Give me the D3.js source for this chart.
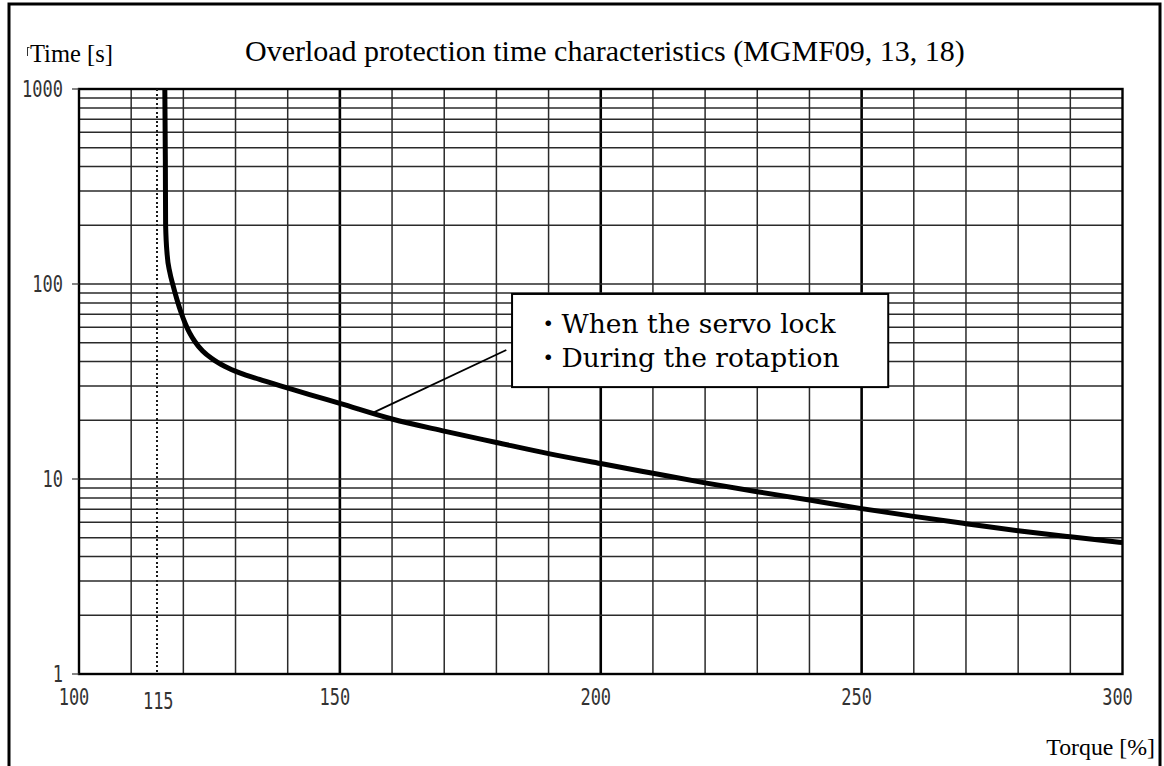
<!DOCTYPE html>
<html>
<head>
<meta charset="utf-8">
<script src="https://cdn.jsdelivr.net/npm/d3@7"></script>
<style>
  body { margin: 0; background: #fff; }
</style>
</head>
<body>
<div id="chart"></div>
<script>
// curve: torque [%] vs time [s]
const torque = [116.45, 116.55, 116.6, 116.9, 117.4, 118.0, 118.8, 119.6, 120.4, 121.2, 122.2, 123.7, 125.6, 127.9, 130.8, 134.6, 139.1, 144.2, 150, 160, 170, 180, 190, 200, 210, 220, 230, 240, 250, 260, 270, 280, 290, 300];
const time = [1000, 432, 200, 141, 115, 99, 82.8, 71, 62.4, 56.1, 50.7, 45.3, 41.2, 37.9, 35.0, 32.4, 29.8, 27.1, 24.4, 20.3, 17.6, 15.4, 13.5, 12.0, 10.7, 9.55, 8.6, 7.8, 7.05, 6.43, 5.9, 5.43, 5.05, 4.72];

const xTicks = [100, 115, 150, 200, 250, 300];
const yTicks = [1, 10, 100, 1000];
const limitTorque = 115;
const heavyX = [150, 200, 250];

const titleText = "Overload protection time characteristics (MGMF09, 13, 18)";
const legendLines = ["・When the servo lock", "・During the rotaption"];
// leader line from the curve to the note box, and the box corners, in data units
const leader = [[156.4, 21.9], [181.9, 45.9]];
const noteBox = {x0: 183, x1: 255.1, top: 88.9, bottom: 29.6};

const W = 1164, H = 766;

const svg = d3.select("#chart").append("svg")
    .attr("width", W)
    .attr("height", H);

// frame round the whole picture (bottom runs off the page)
svg.append("rect")
    .attr("x", 9).attr("y", 4)
    .attr("width", 1151).attr("height", 820)
    .attr("fill", "none")
    .attr("stroke", "#000")
    .attr("stroke-width", 3);

const x = d3.scaleLinear().domain([100, 300]).range([79, 1122.5]);
const y = d3.scaleLog().domain([1, 1000]).range([674, 89]);

// vertical grid
const vGrid = d3.range(110, 300, 10);
svg.append("g")
    .selectAll("line")
    .data(vGrid)
    .join("line")
    .attr("x1", d => x(d)).attr("x2", d => x(d))
    .attr("y1", y(1000)).attr("y2", y(1))
    .attr("stroke", d => heavyX.includes(d) ? "#000" : "#2a2a2a")
    .attr("stroke-width", d => heavyX.includes(d) ? 2.6 : 1.5);

// horizontal log grid
const hGrid = [];
[1, 10, 100].forEach(dec => {
    d3.range(2, 10).forEach(k => hGrid.push(dec * k));
    if (dec > 1) hGrid.push(dec);
});
svg.append("g")
    .selectAll("line")
    .data(hGrid)
    .join("line")
    .attr("x1", x(100)).attr("x2", x(300))
    .attr("y1", d => y(d)).attr("y2", d => y(d))
    .attr("stroke", "#2a2a2a")
    .attr("stroke-width", 1.5);

// plot border
svg.append("rect")
    .attr("x", x(100)).attr("y", y(1000))
    .attr("width", x(300) - x(100))
    .attr("height", y(1) - y(1000))
    .attr("fill", "none")
    .attr("stroke", "#000")
    .attr("stroke-width", 2.4);

// dotted limit line (snapped to whole pixels so the dots stay dark)
const limX = Math.round(x(limitTorque));
svg.append("line")
    .attr("x1", limX).attr("x2", limX)
    .attr("y1", y(1000)).attr("y2", y(1))
    .attr("stroke", "#1a1a1a")
    .attr("stroke-width", 2)
    .attr("stroke-dasharray", "2,2.5")
    .attr("shape-rendering", "crispEdges");

// y tick marks + labels
const tickFont = "'DejaVu Sans Mono', monospace";
svg.append("g")
    .selectAll("line")
    .data(yTicks)
    .join("line")
    .attr("x1", x(100) - 7).attr("x2", x(100))
    .attr("y1", d => y(d)).attr("y2", d => y(d))
    .attr("stroke", "#333")
    .attr("stroke-width", 1.2);

svg.append("g")
    .selectAll("text")
    .data(yTicks)
    .join("text")
    .attr("transform", d => `translate(${x(100) - 16},${y(d) + 8}) scale(1,1.3)`)
    .attr("text-anchor", "end")
    .style("font-family", tickFont)
    .style("font-size", "17px")
    .style("fill", "#333")
    .text(d => d);

svg.append("g")
    .selectAll("text")
    .data(xTicks)
    .join("text")
    .attr("transform", d => d === limitTorque
        ? `translate(${x(d) + 1},${709}) scale(1,1.3)`
        : `translate(${x(d) - 5},${705}) scale(1,1.3)`)
    .attr("text-anchor", "middle")
    .style("font-family", tickFont)
    .style("font-size", "17px")
    .style("fill", "#333")
    .text(d => d);

// the curve
svg.append("path")
    .datum(torque.map((t, i) => [t, time[i]]))
    .attr("fill", "none")
    .attr("stroke", "#000")
    .attr("stroke-width", 5)
    .attr("stroke-linejoin", "round")
    .attr("d", d3.line()
        .x(d => x(d[0]))
        .y(d => y(d[1]))
        .curve(d3.curveMonotoneX));

// leader line + note box
svg.append("line")
    .attr("x1", x(leader[0][0])).attr("y1", y(leader[0][1]))
    .attr("x2", x(leader[1][0])).attr("y2", y(leader[1][1]))
    .attr("stroke", "#000")
    .attr("stroke-width", 1.8);

svg.append("rect")
    .attr("x", x(noteBox.x0)).attr("y", y(noteBox.top))
    .attr("width", x(noteBox.x1) - x(noteBox.x0))
    .attr("height", y(noteBox.bottom) - y(noteBox.top))
    .attr("fill", "#fff")
    .attr("stroke", "#000")
    .attr("stroke-width", 2);

svg.append("g")
    .selectAll("text")
    .data(legendLines)
    .join("text")
    .attr("x", x(noteBox.x0) + 23)
    .attr("y", (d, i) => 333 + i * 34)
    .style("font-family", "'DejaVu Serif', 'Noto Sans CJK JP', serif")
    .style("font-size", "26.5px")
    .style("fill", "#000")
    .text(d => d);

// titles
const serif = "'Liberation Serif', 'Times New Roman', serif";
svg.append("text")
    .attr("x", 245).attr("y", 61)
    .style("font-family", serif)
    .style("font-size", "30px")
    .text(titleText);

svg.append("text")
    .attr("x", 30).attr("y", 62)
    .style("font-family", serif)
    .style("font-size", "24.5px")
    .text("Time [s]");

svg.append("path")
    .attr("d", "M27.5,47V56M27.5,47.5H29.5")
    .attr("stroke", "#333")
    .attr("stroke-width", 1)
    .attr("fill", "none");

svg.append("text")
    .attr("x", 1155).attr("y", 755)
    .attr("text-anchor", "end")
    .style("font-family", serif)
    .style("font-size", "23.8px")
    .text("Torque [%]");
</script>
</body>
</html>
